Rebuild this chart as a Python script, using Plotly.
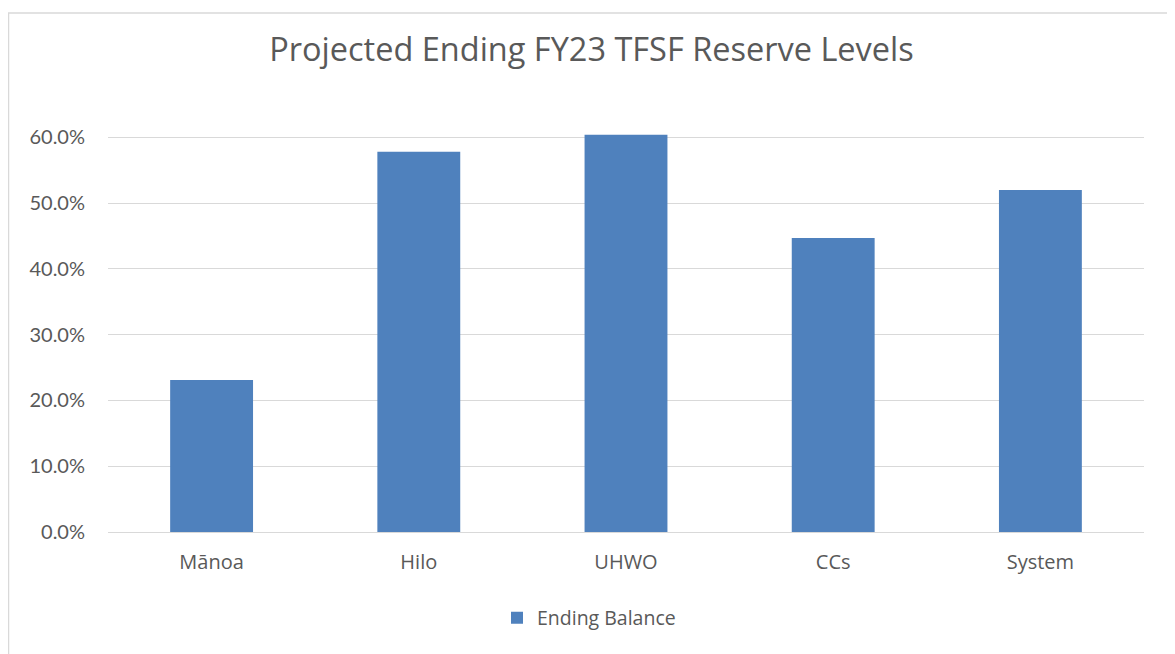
import plotly.graph_objects as go

categories = ["Mānoa", "Hilo", "UHWO", "CCs", "System"]
ending_balance = [0.231, 0.578, 0.604, 0.447, 0.520]
series_name = "Ending Balance"
title_text = "Projected Ending FY23 TFSF Reserve Levels"
y_ticks = [0, 0.1, 0.2, 0.3, 0.4, 0.5, 0.6]

FONT = "Open Sans"
TICKFONT = "Lato"
GRAY = "#595959"

fig = go.Figure()
fig.add_trace(go.Bar(
    x=categories, y=ending_balance, name=series_name,
    marker=dict(color="#4F81BD", line=dict(width=0)),
    width=0.4, showlegend=True,
))

# page body has an 8px margin; figure is sized to fit the window
W, H = 1167, 646
L, R, T, B = 100, 31, 126, 122
pw, ph = W - L - R, H - T - B

def px_x(p):
    return (p - L) / pw

def px_y(p):
    return (H - B - p) / ph

fig.update_layout(
    width=W, height=H,
    margin=dict(l=L, r=R, t=T, b=B),
    paper_bgcolor="white", plot_bgcolor="white",
    font=dict(family=FONT, color=GRAY, size=20),
    title=dict(text=title_text, x=0.5, xanchor="center", y=1 - 42 / H, yanchor="middle",
               font=dict(family=FONT, size=32.5, color=GRAY)),
    xaxis=dict(showgrid=False, showline=False, ticks="", ticklabelstandoff=16,
               tickfont=dict(family=FONT, size=20, color=GRAY)),
    yaxis=dict(range=[0, 0.605], tickvals=y_ticks, tickformat=".1%",
               showgrid=True, gridcolor="#d9d9d9", gridwidth=1.3,
               zeroline=True, zerolinecolor="#d9d9d9", zerolinewidth=1.3,
               showline=False, ticks="", ticklabelstandoff=22,
               tickfont=dict(family=TICKFONT, size=20, color=GRAY)),
    legend=dict(orientation="h", x=px_x(581), xanchor="center", y=px_y(610), yanchor="middle",
                font=dict(family=FONT, size=19.5, color=GRAY)),
    shapes=[dict(type="rect", xref="paper", yref="paper",
                 x0=px_x(0.5), x1=px_x(1164.5), y0=px_y(700), y1=px_y(5),
                 line=dict(color="#d9d9d9", width=1.5), fillcolor="rgba(0,0,0,0)", layer="below")],
)

fig.write_html("out.html")
